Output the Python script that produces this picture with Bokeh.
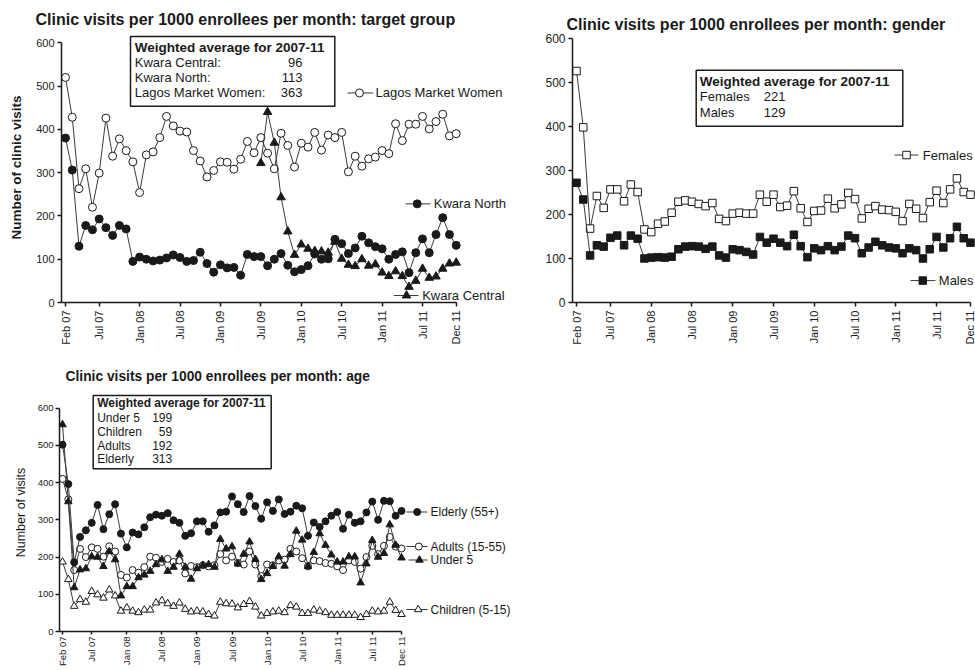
import math
from bokeh.plotting import figure
from bokeh.layouts import column, row
from bokeh.models import FixedTicker, Range1d
from bokeh.core.properties import value
from bokeh.embed import file_html
from bokeh.resources import INLINE

FONT = "Liberation Sans"
NAN = float("nan")

# ---------------- data ----------------
tick_months = [0, 5, 11, 17, 23, 29, 35, 41, 47, 53, 58]
tick_labels = ["Feb 07", "Jul 07", "Jan 08", "Jul 08", "Jan 09", "Jul 09",
               "Jan 10", "Jul 10", "Jan 11", "Jul 11", "Dec 11"]
y_ticks = [0, 100, 200, 300, 400, 500, 600]
month_index = list(range(59))  # Feb 07 ... Dec 11

lagos = [520, 428, 263, 309, 220, 299, 426, 338, 378, 351, 325, 254, 341, 348, 381,
         430, 408, 396, 394, 351, 327, 290, 305, 325, 324, 308, 331, 372, 346, 381,
         345, 309, 391, 363, 313, 368, 359, 393, 352, 387, 381, 393, 302, 338, 315,
         332, 336, 351, 344, 413, 374, 412, 412, 430, 401, 418, 435, 385, 390]
kwara_north = [380, 306, 130, 178, 168, 193, 173, 155, 178, 170, 95, 105, 100, 96, 98,
               103, 110, 104, 95, 97, 116, 90, 70, 87, 80, 81, 63, 111, 106, 106,
               85, 100, 113, 86, 71, 76, 85, 112, 100, 101, 146, 136, 113, 126, 153,
               138, 129, 124, 100, 111, 117, 69, 115, 147, 115, 157, 196, 157, 132]
kwara_central = [None, None, None, None, None, None, None, None, None, None,
                 None, None, None, None, None, None, None, None, None, None,
                 None, None, None, None, None, None, None, None, None,
                 322, 440, 369, 243, 164, 110, 134, 124, 119, 118, 115, 140, 101, 87, 84,
                 100, 85, 88, 69, 61, 72, 61, 36, 50, 78, 57, 60, 78, 90, 92]
target_avg_names = ["Kwara Central:", "Kwara North:", "Lagos Market Women:"]
target_avg_values = ["96", "113", "363"]

females = [526, 398, 168, 242, 215, 257, 257, 230, 268, 251, 166, 160, 179, 184, 204,
           229, 232, 229, 224, 219, 226, 190, 185, 202, 204, 202, 202, 245, 229, 245,
           217, 220, 253, 214, 183, 208, 209, 236, 214, 223, 249, 235, 191, 213, 219,
           211, 210, 206, 185, 224, 213, 192, 228, 254, 226, 257, 282, 251, 245]
males = [272, 234, 107, 130, 127, 147, 152, 130, 152, 145, 100, 102, 103, 102, 104,
         121, 127, 128, 127, 122, 127, 107, 102, 121, 119, 115, 109, 149, 136, 145,
         136, 128, 154, 128, 103, 123, 119, 128, 119, 127, 152, 146, 112, 125, 138,
         130, 125, 123, 112, 123, 119, 100, 121, 149, 125, 146, 172, 146, 136]
gender_avg_names = ["Females", "Males"]
gender_avg_values = ["221", "129"]

elderly = [502, 396, 186, 254, 272, 292, 340, 275, 315, 342, 263, 226, 266, 261, 280,
           307, 314, 311, 318, 299, 292, 257, 264, 296, 296, 268, 285, 320, 322, 363,
           342, 321, 364, 337, 303, 347, 324, 355, 316, 322, 338, 331, 257, 293, 281,
           296, 311, 321, 276, 314, 292, 296, 320, 349, 300, 351, 350, 311, 324]
under5 = [556, 349, 118, 166, 169, 201, 200, 175, 215, 193, 96, 121, 121, 145, 152,
          162, 180, 193, 162, 173, 208, 173, 141, 169, 178, 180, 173, 248, 222, 228,
          182, 208, 241, 194, 140, 156, 175, 201, 176, 207, 270, 246, 175, 213, 263,
          232, 206, 187, 187, 201, 201, 131, 182, 245, 200, 210, 287, 232, 198]
adults = [410, 355, 165, 222, 200, 226, 222, 201, 229, 215, 152, 145, 165, 158, 173,
          201, 198, 187, 195, 187, 191, 156, 176, 173, 178, 175, 178, 208, 191, 201,
          184, 180, 215, 180, 149, 180, 178, 191, 193, 222, 215, 197, 175, 191, 189,
          184, 182, 175, 165, 191, 187, 169, 200, 230, 208, 230, 254, 228, 223]
children = [187, 140, 68, 86, 79, 108, 99, 90, 112, 96, 55, 64, 55, 51, 58,
            58, 77, 83, 75, 68, 77, 60, 53, 55, 53, 46, 42, 79, 75, 74,
            64, 73, 81, 66, 42, 49, 53, 55, 51, 70, 66, 49, 49, 58, 55,
            51, 44, 44, 44, 44, 44, 38, 46, 55, 53, 55, 79, 57, 46]
age_avg_names = ["Under 5", "Children", "Adults", "Elderly"]
age_avg_values = ["199", "59", "192", "313"]


def clean(vals):
    return [NAN if v is None else v for v in vals]


# ---------------- geometry helpers (page pixels -> data) ----------------
class Geo:
    def __init__(self, FL, FR, FT, FB, xs, xe, ys, ye):
        self.FL, self.FR, self.FT, self.FB = FL, FR, FT, FB
        self.xs, self.xe, self.ys, self.ye = xs, xe, ys, ye

    def X(self, px):
        return self.xs + (px - self.FL) / (self.FR - self.FL) * (self.xe - self.xs)

    def Y(self, py):
        return self.ys + (self.FB - py) / (self.FB - self.FT) * (self.ye - self.ys)


INK = "#1a1a1a"
LINE = "#3a3a3a"


def make_fig(geo, page_left, page_top, width, height, tick_px, ytick_px,
             xtick_out, xstandoff, ytick_out, ystandoff):
    bl = int(round(geo.FL - page_left))
    br = int(round(page_left + width - geo.FR))
    bt = int(round(geo.FT - page_top))
    bb = int(round(page_top + height - geo.FB))
    p = figure(width=width, height=height,
               x_range=Range1d(geo.xs, geo.xe), y_range=Range1d(geo.ys, geo.ye),
               output_backend="svg", toolbar_location=None,
               min_border_left=bl, min_border_right=br,
               min_border_top=bt, min_border_bottom=bb)
    p.outline_line_color = None
    p.xgrid.visible = False
    p.ygrid.visible = False
    p.background_fill_color = "white"
    p.border_fill_color = "white"
    xa = p.xaxis[0]
    ya = p.yaxis[0]
    xa.ticker = FixedTicker(ticks=tick_months)
    xa.major_label_overrides = {m: l for m, l in zip(tick_months, tick_labels)}
    xa.major_label_orientation = math.pi / 2
    xa.bounds = (geo.xs, 58)
    ya.ticker = FixedTicker(ticks=y_ticks)
    ya.bounds = (0, 600)
    for ax, sz in ((xa, tick_px), (ya, ytick_px)):
        ax.axis_line_color = INK
        ax.axis_line_width = 1.5
        ax.major_tick_line_color = INK
        ax.major_tick_line_width = 1.5
        ax.major_tick_in = 0
        ax.minor_tick_line_color = None
        ax.major_label_text_font = FONT
        ax.major_label_text_font_size = sz
        ax.major_label_text_color = "#222222"
    xa.major_tick_out = xtick_out
    xa.major_label_standoff = xstandoff
    ya.major_tick_out = ytick_out
    ya.major_label_standoff = ystandoff
    return p


def add_title(p, text, size, offset, standoff):
    p.title.text = text
    p.title.text_font = FONT
    p.title.text_font_size = size
    p.title.text_font_style = "bold"
    p.title.text_color = INK
    p.title.align = "left"
    p.title.offset = offset
    p.title.standoff = standoff


def add_series(p, ys, marker, filled, size):
    p.line(month_index, clean(ys), line_color=LINE, line_width=1)
    p.scatter(month_index, clean(ys), marker=marker, size=size,
              fill_color=INK if filled else "white", line_color=INK, line_width=1)


def add_tag(p, geo, text, py, lx0, lx1, mx, tx, marker, filled, size, font_px):
    y = geo.Y(py)
    p.line([geo.X(lx0), geo.X(lx1)], [y, y], line_color=LINE, line_width=1)
    p.scatter([geo.X(mx)], [y], marker=marker, size=size,
              fill_color=INK if filled else "white", line_color=INK, line_width=1)
    p.text([geo.X(tx)], [y], text=[text], text_font=value(FONT), text_font_size=font_px,
           text_baseline="middle", text_align="left", text_color=INK)


def add_box(p, geo, left, right, top, bottom, title_xy, title_px, rows, row_px):
    p.quad(left=[geo.X(left)], right=[geo.X(right)], top=[geo.Y(top)], bottom=[geo.Y(bottom)],
           fill_color="white", line_color=INK, line_width=1.5)
    tx, ty = title_xy
    p.text([geo.X(tx)], [geo.Y(ty)], text=["Weighted average for 2007-11"], text_font=value(FONT),
           text_font_size=title_px, text_font_style="bold", text_baseline="middle",
           text_align="left", text_color=INK)
    for (txt, px, py, align) in rows:
        p.text([geo.X(px)], [geo.Y(py)], text=[txt], text_font=value(FONT), text_font_size=row_px,
               text_baseline="middle", text_align=align, text_color=INK)


TOP_H = 347
TOP_FT = 32   # shared frame top of the two upper panels (row aligns them)

# ---------------- panel 1: target group ----------------
sx1 = (455.7 - 65) / 58
g1 = Geo(61, 512, TOP_FT, 303, -4 / sx1, -4 / sx1 + 451 / sx1, 0, (303 - TOP_FT) / 0.4344)
p1 = make_fig(g1, 0, 0, 520, TOP_H, "11px", "11px", 4, 4, 4, 3)
add_title(p1, "Clinic visits per 1000 enrollees per month: target group", "16px", -26, 9)
p1.yaxis[0].axis_label = "Number of clinic visits"
p1.yaxis[0].axis_label_text_font = FONT
p1.yaxis[0].axis_label_text_font_size = "13.5px"
p1.yaxis[0].axis_label_text_font_style = "bold"
p1.yaxis[0].axis_label_text_color = INK
p1.yaxis[0].axis_label_standoff = 9
add_series(p1, lagos, "circle", False, 8)
add_series(p1, kwara_north, "circle", True, 8)
add_series(p1, kwara_central, "triangle", True, 8.5)
add_tag(p1, g1, "Lagos Market Women", 92.7, 347, 372.7, 359, 375, "circle", False, 8, "13px")
add_tag(p1, g1, "Kwara North", 204, 405, 430, 416.7, 433.3, "circle", True, 8, "13px")
add_tag(p1, g1, "Kwara Central", 296, 393.3, 418, 406, 421.7, "triangle", True, 8.5, "13px")
rows1 = []
for i, (n, v) in enumerate(zip(target_avg_names, target_avg_values)):
    yy = [62.3, 77.3, 92.7][i]
    rows1.append((n, 134.3, yy, "left"))
    rows1.append((v, 302, yy, "right"))
add_box(p1, g1, 130, 334.3, 36, 106, (134.3, 46.7), "13.5px", rows1, "13px")

# ---------------- panel 2: gender ----------------
sx2 = (970 - 576) / 58
g2 = Geo(572, 975, TOP_FT, 303, -4 / sx2, -4 / sx2 + 403 / sx2, 0, (303 - TOP_FT) / 0.4417)
p2 = make_fig(g2, 520, 0, 455, TOP_H, "11px", "12px", 4, 4, 4, 3)
add_title(p2, "Clinic visits per 1000 enrollees per month: gender", "16px", -6, 0)
add_series(p2, females, "square", False, 7.5)
add_series(p2, males, "square", True, 7.5)
add_tag(p2, g2, "Females", 155, 894, 918, 906, 922.3, "square", False, 7.5, "13px")
add_tag(p2, g2, "Males", 281, 910, 935, 922.3, 938.3, "square", True, 7.5, "13px")
rows2 = []
for i, (n, v) in enumerate(zip(gender_avg_names, gender_avg_values)):
    yy = [96.7, 112][i]
    rows2.append((n, 699.3, yy, "left"))
    rows2.append((v, 763.3, yy, "left"))
add_box(p2, g2, 695.7, 902.3, 70, 126, (699.3, 80.7), "13.5px", rows2, "13px")

# ---------------- panel 3: age ----------------
sx3 = (401 - 62) / 58
sy3 = (631 - 407.7) / 600
g3 = Geo(59, 518, 393, 631, -3 / sx3, -3 / sx3 + 459 / sx3, 0, (631 - 393) / sy3)
p3 = make_fig(g3, 0, TOP_H, 520, 670 - TOP_H, "9.5px", "9.5px", 3, 2, 4, 2)
add_title(p3, "Clinic visits per 1000 enrollees per month: age", "13.8px", 6, 20)
p3.yaxis[0].axis_label = "Number of visits"
p3.yaxis[0].axis_label_text_font = FONT
p3.yaxis[0].axis_label_text_font_size = "12.5px"
p3.yaxis[0].axis_label_text_font_style = "normal"
p3.yaxis[0].axis_label_text_color = INK
p3.yaxis[0].axis_label_standoff = 7
add_series(p3, children, "triangle", False, 7.5)
add_series(p3, adults, "circle", False, 7)
add_series(p3, under5, "triangle", True, 7.5)
add_series(p3, elderly, "circle", True, 7)
add_tag(p3, g3, "Elderly (55+)", 511.5, 406, 427, 416.7, 430, "circle", True, 7, "12px")
add_tag(p3, g3, "Adults (15-55)", 546, 406, 427, 418.3, 430, "circle", False, 7, "12px")
add_tag(p3, g3, "Under 5", 559.5, 408, 427, 419, 430, "triangle", True, 7.5, "12px")
add_tag(p3, g3, "Children (5-15)", 609, 406, 427, 417.7, 430, "triangle", False, 7.5, "12px")
rows3 = []
for i, (n, v) in enumerate(zip(age_avg_names, age_avg_values)):
    yy = [417.3, 431, 445, 458.3][i]
    rows3.append((n, 96.7, yy, "left"))
    rows3.append((v, 171.7, yy, "right"))
add_box(p3, g3, 92.7, 270.7, 395, 468.3, (96.7, 402.3), "12px", rows3, "12px")

layout = column(row(p1, p2), p3)
open("out.html", "w").write(file_html(layout, INLINE))
